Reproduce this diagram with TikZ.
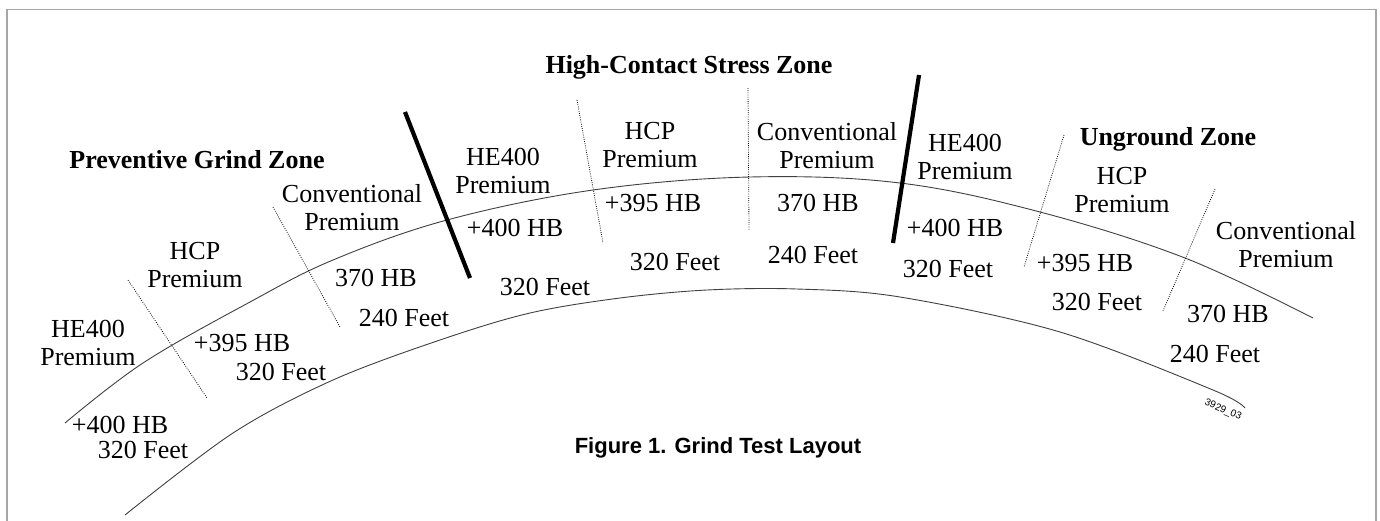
\documentclass[tikz,border=0pt]{standalone}
\usepackage{fontspec}
\setmainfont{Liberation Serif}
\newfontfamily\capfont{Liberation Sans}
\tikzset{every path/.style={semithick}}
\tikzset{
  lbl/.style={font=\fontsize{26}{28}\selectfont, align=center, inner sep=0pt},
  zone/.style={font=\fontsize{26}{28}\selectfont\bfseries, inner sep=0pt},
  rail/.style={draw=black!75, line width=0.9pt},
  divider/.style={line width=0.8pt, dash pattern=on 0.8pt off 1.4pt},
  joint/.style={line width=4.2pt},
}

\begin{document}
\begin{tikzpicture}[x=1pt, y=-1pt]
    \useasboundingbox (0,0) rectangle (1380,520);
    \draw[gray!70, line width=1.3pt] (7,540) -- (7,9.5) -- (1376,9.5) -- (1376,540);

    % rails
    \draw[rail] plot[smooth, tension=0.6] coordinates {(65,423) (143,363) (250,302) (333,260)
      (447,220) (593,190) (750,177) (900,183) (1040,212) (1185,258) (1313,318)};
    \draw[rail] plot[smooth, tension=0.55] coordinates {(125,515) (233,433) (333,380) (440,340)
      (530,313) (620,298) (707,290) (797,289) (900,297) (1060,332) (1213,390) (1245,408)};

    % section limits
    \draw[divider] (128,280) -- (207,398);
    \draw[divider] (273,207) -- (340,327);
    \draw[joint] (405,112) -- (470,278);
    \draw[divider] (577,100) -- (603,243);
    \draw[divider] (748,88) -- (749,230);
    \draw[joint] (919,75) -- (893,243);
    \draw[divider] (1064,135) -- (1024,267);
    \draw[divider] (1215,189) -- (1163,311);

    % zones
    \node[zone] (prev) at (197,160) {Preventive Grind Zone};
    \node[zone] (hcs) at (689,67) {High-Contact Stress Zone};
    \node[zone] (ungr) at (1168,139) {Unground Zone};

    % rail grades
    \node[lbl] (he1) at (88,343) {HE400\\Premium};
    \node[lbl] (hcp1) at (195,265) {HCP\\Premium};
    \node[lbl] (conv1) at (352,208) {Conventional\\Premium};
    \node[lbl] (he2) at (503,171) {HE400\\Premium};
    \node[lbl] (hcp2) at (650,145) {HCP\\Premium};
    \node[lbl] (conv2) at (827,146) {Conventional\\Premium};
    \node[lbl] (he3) at (965,157) {HE400\\Premium};
    \node[lbl] (hcp3) at (1122,190) {HCP\\Premium};
    \node[lbl] (conv3) at (1286,245) {Conventional\\Premium};

    % hardness and length
    \node[lbl] (hb1) at (120,425) {+400 HB};
    \node[lbl] (ft1) at (143,450) {320 Feet};
    \node[lbl] (hb2) at (242,343) {+395 HB};
    \node[lbl] (ft2) at (281,372) {320 Feet};
    \node[lbl] (hb3) at (376,278) {370 HB};
    \node[lbl] (ft3) at (404,318) {240 Feet};
    \node[lbl] (hb4) at (515,228) {+400 HB};
    \node[lbl] (ft4) at (545,287) {320 Feet};
    \node[lbl] (hb5) at (653,203) {+395 HB};
    \node[lbl] (ft5) at (675,262) {320 Feet};
    \node[lbl] (hb6) at (818,203) {370 HB};
    \node[lbl] (ft6) at (813,255) {240 Feet};
    \node[lbl] (hb7) at (955,228) {+400 HB};
    \node[lbl] (ft7) at (948,269) {320 Feet};
    \node[lbl] (hb8) at (1085,263) {+395 HB};
    \node[lbl] (ft8) at (1097,302) {320 Feet};
    \node[lbl] (hb9) at (1228,314) {370 HB};
    \node[lbl] (ft9) at (1215,354) {240 Feet};

    \node[font=\capfont\fontsize{10}{10}\selectfont, rotate=-23, inner sep=0pt] (fig) at (1223,410) {3929\_03};
    \node[font=\capfont\bfseries\fontsize{22}{24}\selectfont, inner sep=0pt] (cap) at (718,448)
      {Figure 1. Grind Test Layout};
\end{tikzpicture}
\end{document}
